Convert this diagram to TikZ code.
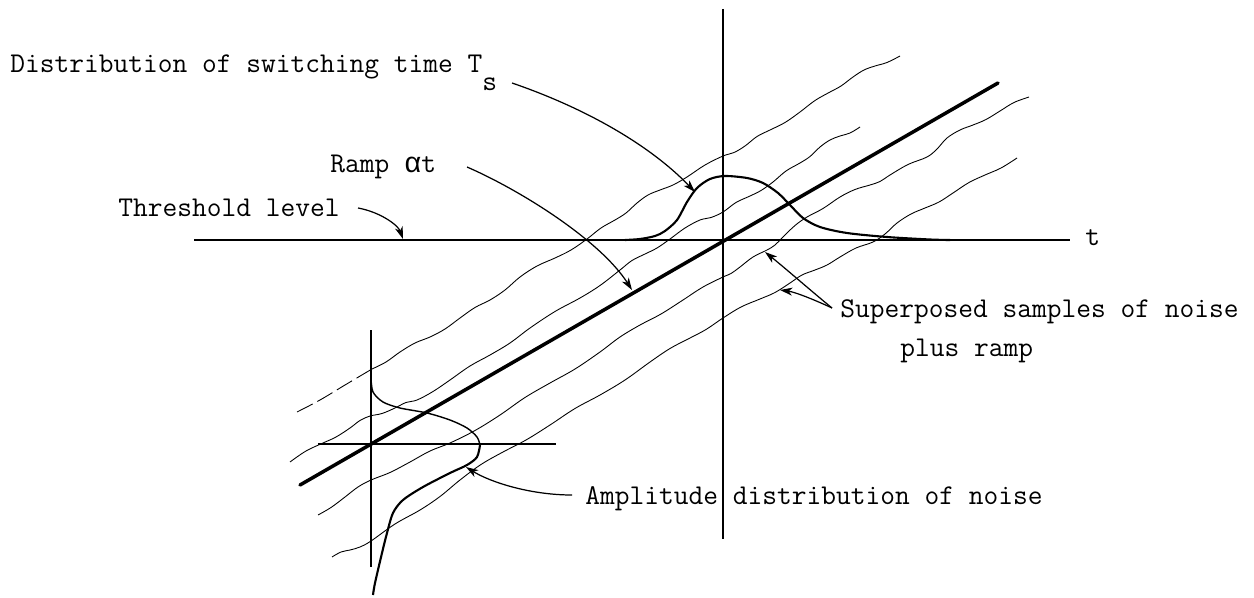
\documentclass[tikz,border=0pt]{standalone}
\usepackage{fontspec}
\newfontfamily\greekmono{Liberation Mono}
\usetikzlibrary{arrows.meta}
\begin{document}
\begin{tikzpicture}[x={(0.02cm,0)}, y={(0,-0.02cm)},
  lbl/.style={font=\ttfamily\fontsize{16.3pt}{19pt}\selectfont\addfontfeatures{FakeBold=0.9}, inner sep=0pt, anchor=base west},
  noise/.style={line width=0.5pt, line join=round},
  rampline/.style={line width=2pt, line cap=round},
  axis/.style={line width=0.8pt},
  bell/.style={line width=1.2pt, line join=round},
  thinbell/.style={line width=0.8pt, line join=round},
  pointer/.style={line width=0.7pt, -{Stealth[length=7pt,width=4.5pt,inset=2pt]}}]
\useasboundingbox (0,0) rectangle (1254,598);

% axes
\coordinate (vtop) at (723,9);
\coordinate (vbot) at (723,539);
\coordinate (hleft) at (194,240);
\coordinate (hright) at (1070,240);
\draw[axis] (vtop) -- (vbot);
\draw[axis] (hleft) -- (hright);
\coordinate (svtop) at (371,330);
\coordinate (svbot) at (371,567);
\coordinate (shleft) at (318,444);
\coordinate (shright) at (556,444);
\draw[axis] (svtop) -- (svbot);
\draw[axis] (shleft) -- (shright);

% ramp
\coordinate (rampA) at (300,485);
\coordinate (rampB) at (998,83);
\draw[rampline] (rampA) -- (rampB);

% noise samples
\draw[noise, dash pattern=on 10pt off 3pt] plot[smooth, tension=0.6] coordinates {(297,412) (320,400) (345,385) (372,369)};
\draw[noise] plot[smooth, tension=0.6] coordinates {(372,369) (386,362) (400,352) (415,343) (430,337) (445,329) (460,318) (475,307.5) (490,300) (505,290) (520,277) (537,266) (555,258) (571,250) (587,239) (601,228) (615,220) (626,213) (637,203) (648,195) (660,190) (673,185) (687,177) (705,165) (723,156) (734,152.5) (745,146) (757,136.5) (770,130) (785,122.5) (800,112) (815,100.5) (830,92) (841,86) (853,77) (864,70) (875,66) (887,62.5) (900,56)};
\draw[noise] plot[smooth, tension=0.6] coordinates {(290,462) (306,451) (323,443) (336,437) (350,428) (360,420.5) (370,416) (382,413.5) (395,408) (406,402.5) (417,400) (433,391.5) (450,380) (470,366) (490,355) (510,343) (530,328) (555,311.5) (580,298) (600,285.5) (620,270) (632,260.5) (645,254) (657,248) (670,239) (685,228) (700,220) (711,217.5) (723,212) (736,202.5) (750,196) (761,190.5) (773,182) (786,171) (800,163) (810,156.5) (820,147) (830,140) (840,136) (850,133) (860,127)};
\draw[noise] plot[smooth, tension=0.6] coordinates {(318,515) (331,507.5) (345,497) (358,487) (371,480) (390,472.5) (410,462) (430,451) (450,443) (475,430.5) (500,415) (525,397.5) (550,383) (575,369) (600,352) (620,337) (640,325) (661,314) (683,300) (703,287) (723,277) (731,273.5) (740,267) (753,257) (767,250) (775,245) (783,237) (795,225.5) (807,217) (823,208.5) (840,197) (855,189.5) (870,185) (880,181.5) (890,175) (908,164.5) (927,157) (937,149) (947,138) (960,130) (973,125) (986,119.5) (1000,111) (1014,102.5) (1029,97)};
\draw[noise] plot[smooth, tension=0.6] coordinates {(332,557) (341,552) (350,550) (360,547) (371,541) (395,524) (420,510) (440,496.5) (460,480) (481,464.5) (503,452) (526,440) (550,425) (575,408.5) (600,395) (625,380) (650,362) (670,348.5) (690,338) (706,329.5) (723,318) (741,307) (760,299) (775,292.5) (790,283) (802,275) (815,270) (827,265) (840,257) (856,248) (873,242) (885,234) (897,223) (911,214) (925,208) (939,202) (953,193) (969,182.5) (985,175) (1001,168) (1017,158)};

% distribution of switching time
\draw[bell] plot[smooth, tension=0.5] coordinates {(625,240) (640,239) (655,236) (665,231) (677,220) (687,202) (697,188) (710,179) (725,176) (747,178) (763,183) (778,193) (790,205) (803,218) (820,227) (847,233) (887,237) (930,239.5) (950,240)};

% amplitude distribution of noise
\draw[thinbell] plot[smooth, tension=0.5] coordinates {(371,378) (373,392) (383,402) (400,408) (427,413) (450,420) (467,428) (477,437) (480,445)};
\draw[bell] plot[smooth, tension=0.5] coordinates {(480,445) (477,457) (467,465) (450,473) (423,487) (403,500) (393,513) (387,533) (382,553) (375,583) (373,595)};

% labels
\node[lbl] (ts) at (10,73) {Distribution of switching time T\raisebox{-0.36cm}{s}};
\node[lbl] (ramp) at (330,173) {Ramp {\greekmono\fontsize{16.3pt}{19pt}\selectfont α}t};
\node[lbl] (thr) at (118,216) {Threshold level};
\node[lbl] (tlab) at (1085,245) {t};
\node[lbl] (sup) at (840,317) {Superposed samples of noise};
\node[lbl] (plus) at (900,356) {plus ramp};
\node[lbl] (amp) at (585,504) {Amplitude distribution of noise};

% pointers
\coordinate (tsA) at (512,83);
\coordinate (tsB) at (695,192);
\draw[pointer] (tsA) .. controls (585,108) and (650,145) .. (tsB);
\coordinate (rampP) at (467,167);
\coordinate (rampT) at (632,290);
\draw[pointer] (rampP) .. controls (520,190) and (600,240) .. (rampT);
\coordinate (thrP) at (358,208);
\coordinate (thrT) at (403,239);
\draw[pointer] (thrP) .. controls (380,212) and (398,225) .. (thrT);
\coordinate (supP) at (832,308);
\coordinate (supT1) at (765,252);
\coordinate (supT2) at (780,290);
\draw[pointer] (supP) .. controls (810,290) and (785,268) .. (supT1);
\draw[pointer] (supP) .. controls (815,300) and (795,292) .. (supT2);
\coordinate (ampP) at (572,495);
\coordinate (ampT) at (466,467);
\draw[pointer] (ampP) .. controls (530,495) and (490,482) .. (ampT);
\end{tikzpicture}
\end{document}
